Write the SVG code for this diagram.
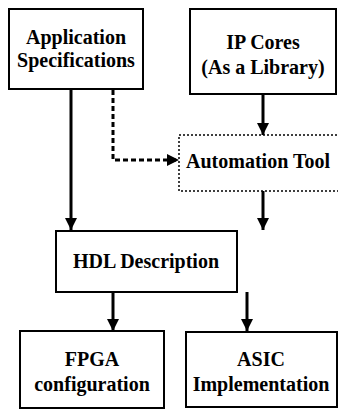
<svg xmlns="http://www.w3.org/2000/svg" width="338" height="410" viewBox="0 0 338 410">
  <style>
    .box { fill: #fff; stroke: #000; stroke-width: 2; }
    .dotbox { fill: #fff; stroke: #000; stroke-width: 1.5; stroke-dasharray: 2 2; }
    .lbl { font-family: 'Liberation Serif', 'Times New Roman', Times, 'DejaVu Serif', serif; font-weight: 700; font-size: 20px; text-anchor: middle; fill: #000; }
    .wire { fill: none; stroke: #000; stroke-width: 3; }
    .dash { fill: none; stroke: #000; stroke-width: 3; stroke-dasharray: 5 3; }
  </style>
  <defs>
    <marker id="head" viewBox="0 0 12 12" refX="12" refY="6" markerWidth="12" markerHeight="12" markerUnits="userSpaceOnUse" orient="auto">
      <path d="M0,0 L12,6 L0,12 Z" fill="#000"/>
    </marker>
  </defs>

  <g id="connectors">
    <line class="wire" x1="71" y1="89" x2="71" y2="230" marker-end="url(#head)"/>
    <polyline class="dash" points="113,90 113,160 179,160" marker-end="url(#head)"/>
    <line class="wire" x1="263" y1="94" x2="263" y2="135" marker-end="url(#head)"/>
    <line class="wire" x1="263" y1="191" x2="263" y2="230" marker-end="url(#head)"/>
    <line class="wire" x1="113" y1="292" x2="113" y2="331" marker-end="url(#head)"/>
    <line class="wire" x1="247" y1="292" x2="247" y2="331" marker-end="url(#head)"/>
  </g>

  <g id="app-spec">
    <rect class="box" x="9" y="9" width="134" height="80"/>
    <text class="lbl" x="76" y="44">Application</text>
    <text class="lbl" x="76" y="67">Specifications</text>
  </g>

  <g id="ip-cores">
    <rect class="box" x="190" y="9" width="146" height="85"/>
    <text class="lbl" x="263" y="49">IP Cores</text>
    <text class="lbl" x="263" y="74">(As a Library)</text>
  </g>

  <g id="automation-tool">
    <rect class="dotbox" x="179" y="135" width="162" height="56"/>
    <text class="lbl" x="258" y="168">Automation Tool</text>
  </g>

  <g id="hdl">
    <rect class="box" x="56" y="231" width="181" height="61"/>
    <text class="lbl" x="146" y="268">HDL Description</text>
  </g>

  <g id="fpga">
    <rect class="box" x="20" y="331" width="144" height="77"/>
    <text class="lbl" x="92" y="366">FPGA</text>
    <text class="lbl" x="92" y="391">configuration</text>
  </g>

  <g id="asic">
    <rect class="box" x="186" y="332" width="151" height="75"/>
    <text class="lbl" x="261" y="366">ASIC</text>
    <text class="lbl" x="261" y="391">Implementation</text>
  </g>
</svg>
